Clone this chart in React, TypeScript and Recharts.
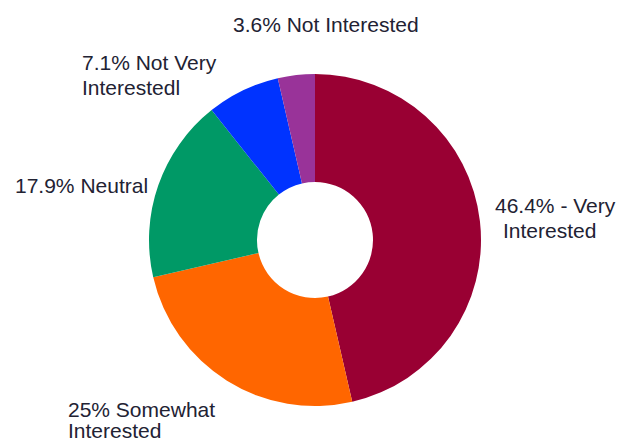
import React from 'react';
import { PieChart, Pie, Cell } from 'recharts';

const categories = ['Very Interested', 'Somewhat Interested', 'Neutral', 'Not Very Interested', 'Not Interested'];
const values = [46.4, 25, 17.9, 7.1, 3.6];
const labelLines = [
  ['46.4% - Very', 'Interested'],
  ['25% Somewhat', 'Interested'],
  ['17.9% Neutral'],
  ['7.1% Not Very', 'Interestedl'],
  ['3.6% Not Interested'],
];
const colors = ['#990033', '#FF6600', '#009966', '#0033FF', '#993399'];

// layout (absolute label positions: per line x, baseline y)
const LABEL_POS = [
  [[495, 213], [503, 238]],
  [[68, 417], [68, 438]],
  [[15, 193]],
  [[82, 70], [82, 95]],
  [[233, 32]],
];

const data = categories.map((name, i) => ({ name, value: values[i] }));

const renderLabel = (props: any) => {
  const i = props.index;
  const lines = labelLines[i];
  const pos = LABEL_POS[i];
  return (
    <g key={`lbl-${i}`}>
      {lines.map((t, j) => (
        <text
          key={j}
          x={pos[j][0]}
          y={pos[j][1]}
          fill="#222233"
          fontSize={21}
          fontFamily="'Liberation Sans', Arial, sans-serif"
          textAnchor="start"
        >
          {t}
        </text>
      ))}
    </g>
  );
};

export default function App() {
  return (
    <div style={{ position: 'absolute', left: 0, top: 0, width: 636, height: 443, background: '#fff' }}>
      <PieChart width={636} height={443} margin={{ top: 0, right: 0, bottom: 0, left: 0 }}>
        <Pie
          data={data}
          dataKey="value"
          nameKey="name"
          cx={315}
          cy={240}
          innerRadius={58}
          outerRadius={166}
          startAngle={90}
          endAngle={-270}
          stroke="none"
          label={renderLabel}
          labelLine={false}
          isAnimationActive={false}
        >
          {data.map((d, i) => (
            <Cell key={d.name} fill={colors[i]} />
          ))}
        </Pie>
      </PieChart>
    </div>
  );
}
